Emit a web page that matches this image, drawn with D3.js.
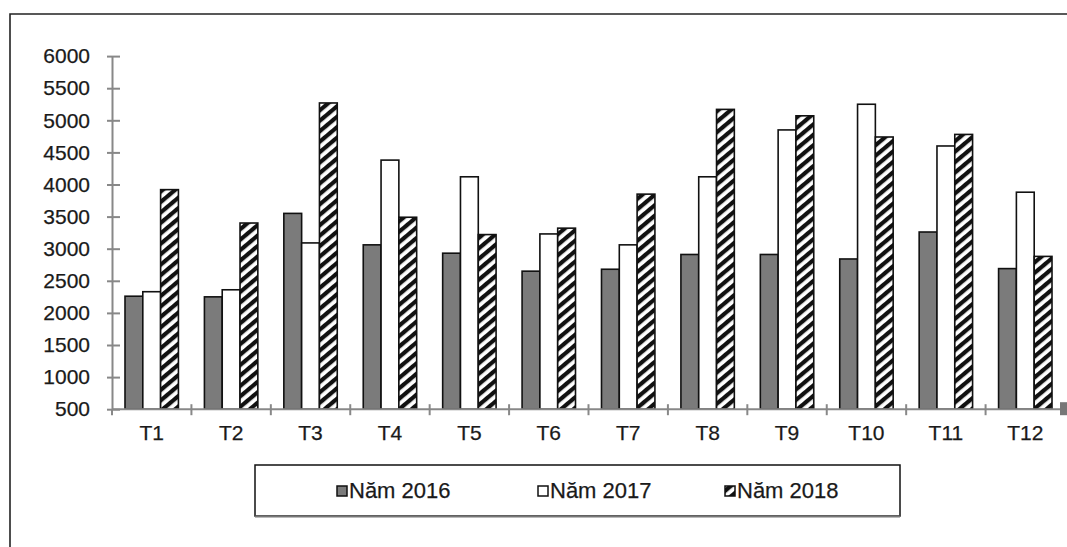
<!DOCTYPE html>
<html><head><meta charset="utf-8">
<script src="https://cdn.jsdelivr.net/npm/d3@7"></script>
<style>
html,body{margin:0;padding:0;background:#fff;}
svg{display:block;}
text{font-family:"Liberation Sans",Arial,sans-serif;fill:#1a1a1a;stroke:#1a1a1a;stroke-width:0.25px;}
</style></head>
<body>
<svg id="chart" width="1067" height="547"></svg>
<script>
const months = ["T1","T2","T3","T4","T5","T6","T7","T8","T9","T10","T11","T12"];
const seriesNames = ["Năm 2016","Năm 2017","Năm 2018"];
const y2016 = [2260,2250,3550,3060,2930,2650,2680,2910,2910,2840,3260,2690];
const y2017 = [2330,2360,3090,4380,4120,3230,3060,4120,4850,5250,4600,3880];
const y2018 = [3920,3400,5270,3490,3220,3320,3850,5170,5070,4740,4780,2880];
const yTicks = [500,1000,1500,2000,2500,3000,3500,4000,4500,5000,5500,6000];

const svg = d3.select("#chart");
const defs = svg.append("defs");
const pat = defs.append("pattern").attr("id","hatch").attr("patternUnits","userSpaceOnUse")
  .attr("width",8).attr("height",8).attr("patternTransform","rotate(50)");
pat.append("rect").attr("width",8).attr("height",8).attr("fill","#fff");
pat.append("rect").attr("width",4.2).attr("height",8).attr("fill","#111");

// outer frame
svg.append("path").attr("d","M10,547 V14 H1067").attr("fill","none").attr("stroke","#222").attr("stroke-width",1.6);

const x = d3.scaleBand().domain(months).range([112,1065]).paddingInner(0).paddingOuter(0);
const x1 = d3.scaleBand().domain(seriesNames).range([0,x.bandwidth()]).paddingInner(0).paddingOuter(0.73);
const y = d3.scaleLinear().domain([500,6000]).range([409.2,56.1]);

const data = months.map((m,i)=>({m, vals:[y2016[i],y2017[i],y2018[i]]}));
const fills = ["#7b7b7b","#ffffff","url(#hatch)"];

const g = svg.append("g");
data.forEach(d=>{
  d.vals.forEach((v,j)=>{
    g.append("rect")
      .attr("x", x(d.m)+x1(seriesNames[j]))
      .attr("y", y(v))
      .attr("width", x1.bandwidth())
      .attr("height", y(500)-y(v))
      .attr("fill", fills[j])
      .attr("stroke","#111").attr("stroke-width",1.6);
  });
});

// y axis
const yAxis = svg.append("g").attr("transform","translate(112,0)")
  .call(d3.axisLeft(y).tickValues(yTicks).tickFormat(d3.format("d")).tickSize(6).tickSizeOuter(0).tickPadding(16));
yAxis.select(".domain").attr("stroke","#888").attr("stroke-width",2);
yAxis.selectAll(".tick line").attr("stroke","#888").attr("stroke-width",2).attr("x1",8).attr("x2",-5);
yAxis.selectAll(".tick text").attr("font-size",21).attr("fill","#1a1a1a").attr("font-family","Liberation Sans, Arial, sans-serif").attr("x",-22);

// x axis
const xAxis = svg.append("g").attr("transform","translate(0,409.2)")
  .call(d3.axisBottom(x).tickSize(0).tickPadding(12).tickSizeOuter(0));
xAxis.select(".domain").attr("stroke","#888").attr("stroke-width",2).attr("d","M112,0H1067");
xAxis.selectAll(".tick text").attr("font-size",21).attr("fill","#1a1a1a").attr("font-family","Liberation Sans, Arial, sans-serif").attr("dy","0.9em");
// boundary ticks
const bounds = months.map(m=>x(m)).concat([x(months[months.length-1])+x.step()]);
xAxis.selectAll(".bt").data(bounds.slice(1,12)).enter().append("line")
  .attr("x1",d=>d).attr("x2",d=>d).attr("y1",-5).attr("y2",6).attr("stroke","#888").attr("stroke-width",2);
xAxis.append("line").attr("x1",112).attr("x2",112).attr("y1",0).attr("y2",6).attr("stroke","#888").attr("stroke-width",2);
xAxis.append("rect").attr("x",1060).attr("y",-7).attr("width",8).attr("height",13).attr("fill","#777");

// legend
const lg = svg.append("g");
lg.append("rect").attr("x",255).attr("y",465).attr("width",645).attr("height",51)
  .attr("fill","#fff").attr("stroke","#111").attr("stroke-width",1.5);
lg.append("line").attr("x1",255).attr("x2",900).attr("y1",516.5).attr("y2",516.5).attr("stroke","#777").attr("stroke-width",2);
const legX = [337,538,725];
const legFills = ["#7b7b7b","#ffffff","url(#hatch)"];
seriesNames.forEach((s,i)=>{
  lg.append("rect").attr("x",legX[i]).attr("y",486).attr("width",10).attr("height",10)
    .attr("fill",legFills[i]).attr("stroke","#111").attr("stroke-width",1.5);
  lg.append("text").attr("x",legX[i]+12).attr("y",498).attr("font-size",22).text(s);
});
</script>
</body></html>
